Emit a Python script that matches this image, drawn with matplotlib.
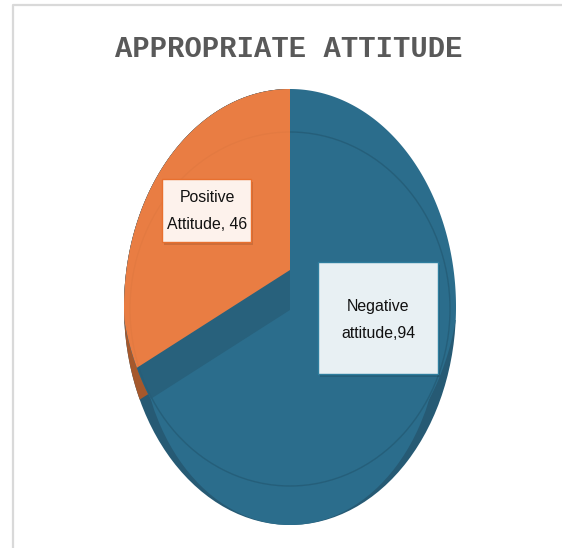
import numpy as np
import matplotlib
matplotlib.use("Agg")
import matplotlib.pyplot as plt
from matplotlib.path import Path
from matplotlib.patches import Ellipse, PathPatch, Rectangle

TITLE = "APPROPRIATE ATTITUDE"
CATEGORIES = ["Positive\nAttitude", "Negative\nattitude"]
VALUES = [46, 94]
LABELS = [f"{CATEGORIES[0]}, {VALUES[0]}", f"{CATEGORIES[1]},{VALUES[1]}"]

W, H = 562, 548
BLUE, BLUE_BAND, BLUE_SIDE = "#2B6D8C", "#28617C", "#265A74"
ORANGE, ORANGE_SIDE = "#E97D43", "#A5582C"

fig = plt.figure(figsize=(W / 100, H / 100), dpi=100, facecolor="white")


def pixel_axes(z):
    ax = fig.add_axes([0, 0, 1, 1], zorder=z)
    ax.set_xlim(0, W)
    ax.set_ylim(H, 0)
    ax.axis("off")
    ax.patch.set_alpha(0)
    return ax


def ellipse_radius(theta, p0, cx, cy, rx, ry):
    # distance from interior point p0 to the ellipse along each direction
    dx, dy = np.cos(theta), np.sin(theta)
    ox, oy = (p0[0] - cx) / rx, (p0[1] - cy) / ry
    a = (dx / rx) ** 2 + (dy / ry) ** 2
    b = 2 * (ox * dx / rx + oy * dy / ry)
    c = ox ** 2 + oy ** 2 - 1
    return (-b + np.sqrt(b ** 2 - 4 * a * c)) / (2 * a)


def pie_layer(apex_x, apex_y, z, colors, clip_path, clip_trans):
    rx, ry = 166, 197
    x0 = (apex_x - 1.25 * rx) / W
    y0 = 1 - (apex_y + 1.25 * ry) / H
    ax = fig.add_axes([x0, y0, 2.5 * rx / W, 2.5 * ry / H], zorder=z)
    wedges, _ = ax.pie(VALUES, colors=colors, startangle=90, counterclock=True, radius=1.2)
    ax.set_xlim(-1.25, 1.25)
    ax.set_ylim(-1.25, 1.25)
    ax.set_aspect("auto")
    ax.patch.set_alpha(0)
    wedges[1].set_visible(False)
    wedges[0].set_linewidth(0)
    wedges[0].set_clip_on(True)
    wedges[0].set_clip_box(None)
    wedges[0].set_clip_path(clip_path, clip_trans)
    return ax


OUTER = (290, 307, 166, 218)
FACE = (290, 270, 170, 225)
LOWER = (290, 325, 150, 200)

base = pixel_axes(0)
base.plot([13, 13, W], [H, 5, 5], color="#D9D9D9", lw=1.6)
side = Ellipse((OUTER[0], OUTER[1]), 2 * OUTER[2], 2 * OUTER[3], fc=BLUE_SIDE, ec="none")
base.add_patch(side)
lower_half = Rectangle((0, 320), W, H - 320, transform=base.transData)
side.set_clip_path(lower_half)

theta = np.linspace(0, 2 * np.pi, 720, endpoint=True)
p0 = (290, 300)
r_outer = ellipse_radius(theta, p0, *OUTER)
r_face = ellipse_radius(theta, p0, *FACE)
r = np.minimum(r_outer, r_face)
face_path = Path(np.column_stack([p0[0] + r * np.cos(theta), p0[1] + r * np.sin(theta)]), closed=True)
rim = np.where(np.sin(theta) > 0.1, r_outer, r)
rim_path = Path(np.column_stack([p0[0] + rim * np.cos(theta), p0[1] + rim * np.sin(theta)]), closed=True)

pie_layer(280, 310, 1, [ORANGE_SIDE, BLUE], rim_path, base.transData)

mid = pixel_axes(2)
mid.add_patch(Ellipse((LOWER[0], LOWER[1]), 2 * LOWER[2], 2 * LOWER[3], fc=BLUE, ec="none"))
mid.add_patch(PathPatch(face_path, fc=BLUE, ec="none"))
mid.add_patch(Ellipse((290, 309), 320, 354, fc="none", ec="black", alpha=0.10, lw=1.0))

pie_layer(290, 310, 3, [BLUE_BAND, BLUE], face_path, base.transData)
pie_layer(290, 270, 4, [ORANGE, BLUE], face_path, base.transData)

top = pixel_axes(5)
top.add_patch(Ellipse((290, 309), 320, 354, fc="none", ec="black", alpha=0.025, lw=1.0))

top.text(289, 49, TITLE, ha="center", va="center", fontsize=20.8, color="#595959",
         family="Liberation Mono", fontweight="bold")

boxes = [
    (162, 179, 89, 63, "#FDF2EC", "#E8702F", (207, 211)),
    (318, 262, 120, 112, "#E8F0F3", "#2F7E9E", (378, 320)),
]
for (x, y, w, h, fc, ec, c), label in zip(boxes, LABELS):
    top.add_patch(Rectangle((x + 2, y + 3), w, h, fc="black", ec="none", alpha=0.12))
    top.add_patch(Rectangle((x, y), w, h, fc=fc, ec=ec, lw=1.0))
    top.text(c[0], c[1], label, ha="center", va="center", fontsize=11.4, color="#111111",
             family="Liberation Sans", linespacing=2.05)

fig.savefig("out.png", dpi=100)
